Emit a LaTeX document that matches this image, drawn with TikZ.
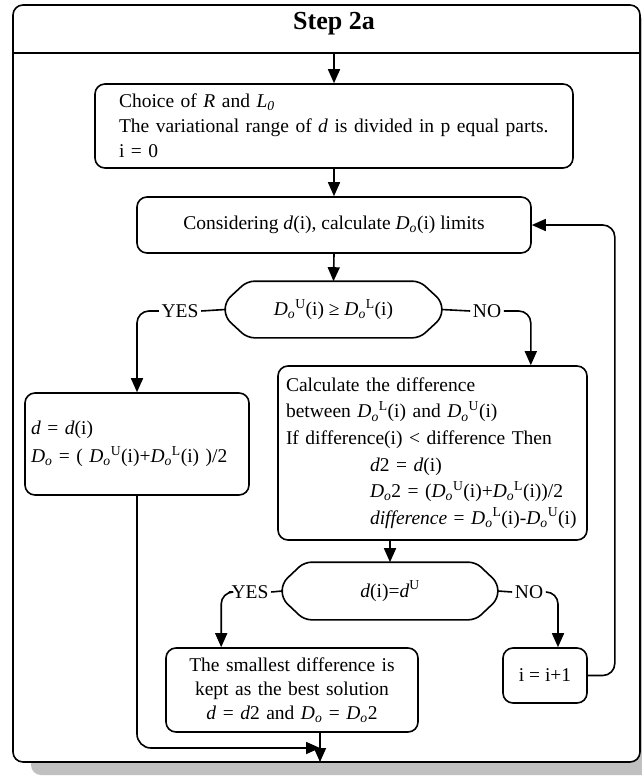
\documentclass[tikz,border=0pt]{standalone}
\usepackage{fontspec}
\setmainfont{Liberation Serif}
\usetikzlibrary{arrows.meta,calc}
\definecolor{shadowgray}{RGB}{192,192,192}
\newcommand\Dsub{\textit{D}\textsubscript{\textit{o}}}
\newcommand\octagon[1]{\draw[rounded corners=7pt] ($(#1.north west)+(22,0)$) -- ($(#1.north east)+(-22,0)$) -- ($(#1.east)+(0,-8)$) -- ($(#1.east)+(0,8)$) -- ($(#1.south east)+(-22,0)$) -- ($(#1.south west)+(22,0)$) -- ($(#1.west)+(0,8)$) -- ($(#1.west)+(0,-8)$) -- cycle;}
\begin{document}
\begin{tikzpicture}[x=1pt,y=-1pt,
  line width=1.6pt,
  txt/.style={font=\fontsize{19.5pt}{25pt}\selectfont},
  box/.style={draw, rounded corners=10pt, txt, inner ysep=0pt},
  hexnode/.style={txt, inner sep=0pt, minimum width=#1, minimum height=55pt},
  lbl/.style={txt, inner sep=2pt},
  arr/.style={-{Triangle[width=12pt,length=14pt]}},
]
\useasboundingbox (0,0) rectangle (642,776);
% frame with shadow
\fill[shadowgray, rounded corners=10pt] (31,18) rectangle (662,775);
\draw[fill=white, rounded corners=10pt] (13,5) rectangle (640,762);
\draw (13,53) -- (640,53);
\node[font=\fontsize{26pt}{30pt}\selectfont\bfseries, anchor=base] (title) at (334,30) {Step 2a};

% nodes
\node[box, text width=430pt, inner xsep=24pt, minimum height=84pt, align=left] (b1) at (334,126)
  {Choice of \textit{R} and \textit{L}\textsubscript{\textit{0}}\\The variational range of \textit{d} is divided in p equal parts.\\i = 0};
\node[box, minimum width=394pt, minimum height=56pt] (b2) at (334,225)
  {Considering \textit{d}(i), calculate \Dsub(i) limits};
\node[hexnode=215pt] (h1) at (333.5,309.5) {\Dsub\textsuperscript{U}(i) ≥ \Dsub\textsuperscript{L}(i)};
\octagon{h1}
\node[box, text width=212pt, inner xsep=6pt, minimum height=102pt, align=left, font=\fontsize{19.5pt}{28pt}\selectfont] (lb) at (137,444)
  {\textit{d} = \textit{d}(i)\\\Dsub{} = ( \Dsub\textsuperscript{U}(i)+\Dsub\textsuperscript{L}(i) )/2};
\node[box, text width=293pt, inner xsep=8pt, minimum height=174pt, align=left, font=\fontsize{19.5pt}{26.6pt}\selectfont] (rb) at (432.5,453)
  {Calculate the difference\\between \Dsub\textsuperscript{L}(i) and \Dsub\textsuperscript{U}(i)\\If difference(i) < difference Then\\\hspace*{84pt}\textit{d}2 = \textit{d}(i)\\\hspace*{84pt}\Dsub2 = (\Dsub\textsuperscript{U}(i)+\Dsub\textsuperscript{L}(i))/2\\\hspace*{84pt}\textit{difference} = \Dsub\textsuperscript{L}(i)-\Dsub\textsuperscript{U}(i)};
\node[hexnode=214pt, minimum height=56pt] (h2) at (390,591) {\textit{d}(i)=\textit{d}\textsuperscript{U}};
\octagon{h2}
\node[box, text width=236pt, inner xsep=8pt, minimum height=84pt, align=center, font=\fontsize{19.5pt}{24pt}\selectfont] (best) at (292,690)
  {The smallest difference is\\kept as the best solution\\\textit{d} = \textit{d}2 and \Dsub{} = \Dsub2};
\node[box, minimum width=84pt, minimum height=55pt] (inc) at (545,675.5) {i = i+1};

\node[lbl] (yes1) at (180,311) {YES};
\node[lbl] (no1) at (487,311) {NO};
\node[lbl] (yes2) at (250,592) {YES};
\node[lbl] (no2) at (529,592) {NO};

% connectors
\coordinate (top) at (334,53);
\coordinate (bot) at (320,762);
\coordinate (botin) at (320,748);
\draw[arr] (top) -- (b1.north);
\draw[arr] (b1.south) -- (b2.north);
\draw[arr] (b2.south) -- (h1.north);
\draw (h1.west) -- (yes1.east);
\draw[arr, rounded corners=12pt] (yes1.west) -| (lb.north);
\draw (h1.east) -- (no1.west);
\draw[arr, rounded corners=12pt] (no1.east) -| ($(rb.north east)+(-57,0)$);
\draw[arr] (h2.north |- rb.south) -- (h2.north);
\draw (h2.west) -- (yes2.east);
\draw[arr, rounded corners=12pt] (yes2.west) -| ($(best.north west)+(56,0)$);
\draw (h2.east) -- (no2.west);
\draw[arr, rounded corners=12pt] (no2.east) -| ($(inc.north)+(13,0)$);
\draw[arr, rounded corners=12pt] (inc.east) -| ($(b2.east)+(83,0)$) -- (b2.east);
\draw[arr] (bot |- best.south) -- (bot);
\draw[arr, rounded corners=14pt] (lb.south) |- (botin);
\end{tikzpicture}
\end{document}
